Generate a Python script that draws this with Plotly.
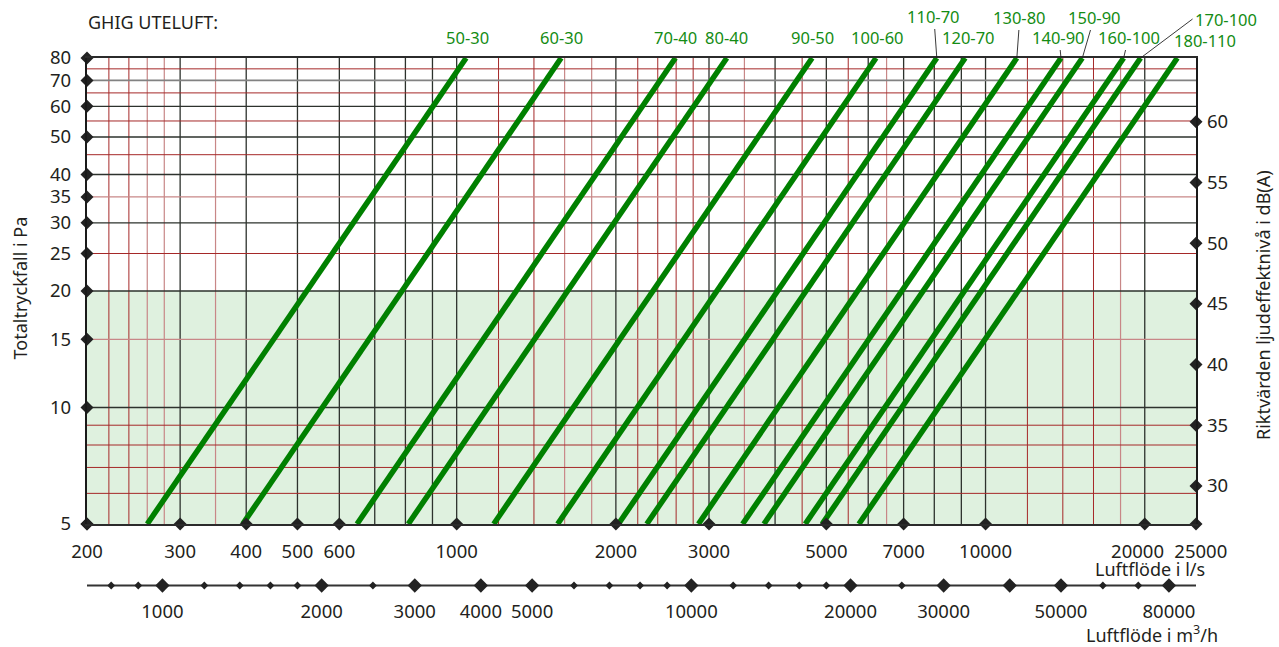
import math
import plotly.graph_objects as go

# ---------------- data ----------------
line_labels = ["50-30", "60-30", "70-40", "80-40", "90-50", "100-60", "110-70",
               "120-70", "130-80", "140-90", "150-90", "160-100", "170-100", "180-110"]
# air flow (l/s) where each curve meets 5 Pa and 80 Pa
flow_at_5pa = [260, 394, 648, 810, 1175, 1552, 2022, 2288, 2865, 3472, 3810, 4561, 4910, 5761]
flow_at_80pa = [1042, 1576, 2592, 3242, 4700, 6208, 8088, 9152, 11460, 13888, 15240, 18244, 19640, 23044]
pressure_ends = [5, 80]

x_ticks_ls = [200, 300, 400, 500, 600, 1000, 2000, 3000, 5000, 7000, 10000, 20000, 25000]
x_tick_text = ["200", "300", "400", "500", "600", "1000", "2000", "3000", "5000", "7000",
               "10000", "20000\u00a0\u00a0\u00a0", "\u00a0\u00a025000"]
y_ticks_pa = [5, 10, 15, 20, 25, 30, 35, 40, 50, 60, 70, 80]
y_ticks_db = [30, 35, 40, 45, 50, 55, 60]
m3h_labels = [1000, 2000, 3000, 4000, 5000, 10000, 20000, 30000, 50000, 80000]
m3h_major = [1000, 2000, 3000, 4000, 5000, 10000, 20000, 30000, 40000, 50000, 80000]
m3h_minor = [800, 900, 1200, 1400, 1600, 1800, 2500, 6000, 7000, 8000, 9000,
             12000, 14000, 16000, 18000, 25000, 60000, 70000]

grid_x_dark = [300, 400, 500, 600, 700, 800, 900, 1000, 2000, 3000, 4000, 5000,
               6000, 7000, 8000, 9000, 10000, 20000]
grid_x_red = [220, 240, 1200, 1400, 2200, 2400, 2600, 2800, 4500, 5500, 12000, 14000, 16000]
grid_x_pink = [260, 280, 350, 1600, 1800, 3500, 6500, 18000]
grid_y_dark = [10, 20, 30, 40, 50, 60]
grid_y_gray = [70]
grid_y_red = [6, 7, 8, 9, 25, 45, 55, 65, 75]
grid_y_pink = [15, 35]
comfort_band = [5, 20]        # shaded pressure band (Pa)

x_range = [200, 25000]
y_range = [5, 80]
db_range = [26.87, 65.25]
m3h_range = [720, 90000]

FONT = "Noto Sans"
TXT = "#231f20"
GREEN = "rgb(0,128,0)"
EPS = 1e-6

fig = go.Figure()

# shaded band
fig.add_shape(type="rect", xref="x", yref="y", x0=x_range[0], x1=x_range[1],
              y0=comfort_band[0], y1=comfort_band[1], layer="below",
              line=dict(width=0), fillcolor="rgb(223,241,223)")


def vlines(vals):
    xs, ys = [], []
    for v in vals:
        xs += [v, v, None]
        ys += [y_range[0], y_range[1], None]
    return xs, ys


def hlines(vals):
    xs, ys = [], []
    for v in vals:
        xs += [x_range[0], x_range[1], None]
        ys += [v, v, None]
    return xs, ys


for vals, col, w in [(grid_x_pink, "rgb(200,135,135)", 1.2), (grid_x_red, "rgb(165,40,40)", 1.0),
                     (grid_x_dark, "rgb(45,50,45)", 1.3)]:
    xs, ys = vlines(vals)
    fig.add_trace(go.Scatter(x=xs, y=ys, mode="lines", line=dict(color=col, width=w),
                             hoverinfo="skip", showlegend=False))
for vals, col, w in [(grid_y_pink, "rgb(200,135,135)", 1.2), (grid_y_red, "rgb(165,40,40)", 1.0),
                     (grid_y_gray, "rgb(130,130,130)", 1.8), (grid_y_dark, "rgb(45,50,45)", 1.3)]:
    xs, ys = hlines(vals)
    fig.add_trace(go.Scatter(x=xs, y=ys, mode="lines", line=dict(color=col, width=w),
                             hoverinfo="skip", showlegend=False))

# green characteristic lines
for lab, q5, q80 in zip(line_labels, flow_at_5pa, flow_at_80pa):
    fig.add_trace(go.Scatter(x=[q5, q80], y=pressure_ends, mode="lines", name=lab,
                             line=dict(color=GREEN, width=5.5), hoverinfo="skip",
                             showlegend=False))

# axis diamonds
fig.add_trace(go.Scatter(x=[x_range[0]] * len(y_ticks_pa), y=y_ticks_pa, mode="markers",
                         marker=dict(symbol="diamond", size=10, color="#222"),
                         cliponaxis=False, hoverinfo="skip", showlegend=False))
fig.add_trace(go.Scatter(x=x_ticks_ls, y=[y_range[0]] * len(x_ticks_ls), mode="markers",
                         marker=dict(symbol="diamond", size=10, color="#222"),
                         cliponaxis=False, hoverinfo="skip", showlegend=False))
fig.add_trace(go.Scatter(x=[x_range[1]] * len(y_ticks_db), y=y_ticks_db, mode="markers",
                         xaxis="x", yaxis="y2",
                         marker=dict(symbol="diamond", size=10, color="#222"),
                         cliponaxis=False, hoverinfo="skip", showlegend=False))

# m3/h scale line + diamonds
fig.add_trace(go.Scatter(x=m3h_range, y=[0.5, 0.5], mode="lines", xaxis="x2", yaxis="y3",
                         line=dict(color="#333", width=2.2), cliponaxis=False,
                         hoverinfo="skip", showlegend=False))
fig.add_trace(go.Scatter(x=m3h_minor, y=[0.5] * len(m3h_minor), mode="markers", xaxis="x2",
                         yaxis="y3", marker=dict(symbol="diamond", size=6, color="#222"),
                         cliponaxis=False, hoverinfo="skip", showlegend=False))
fig.add_trace(go.Scatter(x=m3h_major, y=[0.5] * len(m3h_major), mode="markers", xaxis="x2",
                         yaxis="y3", marker=dict(symbol="diamond", size=11, color="#222"),
                         cliponaxis=False, hoverinfo="skip", showlegend=False))

# ---------------- layout ----------------
W, H = 1279, 647
ML, MR, MT, MB = 87, 83, 58, 30
PW, PH = W - ML - MR, H - MT - MB
plot_bottom = 524
m3h_line_y = 585.5


def px_x(X):
    return (X - ML) / PW


def px_y(Y):
    return (H - MB - Y) / PH


y_dom0 = px_y(plot_bottom)
half = (H - MB - m3h_line_y) / PH

tickfont = dict(family=FONT, size=18.5, color=TXT)
fig.update_layout(
    width=W, height=H, margin=dict(l=ML, r=MR, t=MT, b=MB, pad=0),
    paper_bgcolor="white", plot_bgcolor="white", hovermode=False,
    font=dict(family=FONT, color=TXT),
    xaxis=dict(type="log",
               range=[math.log10(x_range[0]) - EPS, math.log10(x_range[1]) + EPS],
               domain=[0, 1], anchor="y", showgrid=False, zeroline=False,
               showline=True, linecolor="#2b2b2b", linewidth=2, mirror=True,
               tickvals=x_ticks_ls, ticktext=x_tick_text, ticks="",
               tickangle=0, tickfont=tickfont, ticklabelstandoff=10, automargin=False),
    yaxis=dict(type="log",
               range=[math.log10(y_range[0]) - EPS, math.log10(y_range[1]) + EPS],
               domain=[y_dom0, 1], anchor="x", showgrid=False, zeroline=False,
               showline=True, linecolor="#1a1a1a", linewidth=2.2, mirror=True,
               tickvals=y_ticks_pa, ticktext=[str(v) for v in y_ticks_pa], ticks="",
               tickfont=tickfont, ticklabelstandoff=10, automargin=False),
    yaxis2=dict(overlaying="y", side="right", anchor="x", range=db_range,
                showgrid=False, zeroline=False, showline=False,
                tickvals=y_ticks_db, ticktext=[str(v) for v in y_ticks_db], ticks="",
                tickfont=tickfont, ticklabelstandoff=10, automargin=False),
    xaxis2=dict(type="log", overlaying="x", anchor="free", position=px_y(598),
                range=[math.log10(m3h_range[0]), math.log10(m3h_range[1])],
                showgrid=False, zeroline=False, showline=False, tickangle=0,
                tickvals=m3h_labels, ticktext=[str(v) for v in m3h_labels], ticks="",
                tickfont=tickfont, automargin=False),
    yaxis3=dict(domain=[0, 2 * half], range=[0, 1], visible=False, anchor="x2"),
)

annots = [
    dict(text="GHIG UTELUFT:", x=px_x(86), y=px_y(22), xanchor="left", yanchor="middle",
         font=dict(size=18, color=TXT)),
    dict(text="Totaltryckfall i Pa", x=px_x(19.5), y=px_y(288), textangle=-90,
         xanchor="center", yanchor="middle", font=dict(size=18, color=TXT)),
    dict(text="Riktvärden ljudeffektnivå i dB(A)", x=px_x(1263), y=px_y(305), textangle=-90,
         xanchor="center", yanchor="middle", font=dict(size=18, color=TXT)),
    dict(text="Luftflöde i l/s", x=px_x(1207), y=px_y(569), xanchor="right", yanchor="middle",
         font=dict(size=18, color=TXT)),
    dict(text="Luftflöde i m<sup>3</sup>/h", x=px_x(1220), y=px_y(634), xanchor="right",
         yanchor="middle", font=dict(size=18, color=TXT)),
]
for a in annots:
    a.update(xref="paper", yref="paper", showarrow=False)
fig.update_layout(annotations=annots)

# curve labels: (pixel offset of label from the curve's top end, leader line?, xanchor)
label_style = [(1, -21, False, "center"), (0, -21, False, "center"), (0, -21, False, "center"),
               (0, -21, False, "center"), (0, -21, False, "center"), (1, -21, False, "center"),
               (-3, -42, True, "center"), (3, -21, False, "center"), (3, -41, True, "center"),
               (-2, -21, True, "center"), (12, -41, True, "center"), (5, -21, True, "center"),
               (52, -39, True, "left"), (28, -18, False, "center")]
for lab, q80, (dx, dy, lead, xa) in zip(line_labels, flow_at_80pa, label_style):
    fig.add_annotation(x=math.log10(q80), y=math.log10(pressure_ends[1]), xref="x", yref="y",
                       text=lab, showarrow=True, ax=dx, ay=dy, axref="pixel", ayref="pixel",
                       arrowhead=0, arrowwidth=0.9, standoff=0, startstandoff=0,
                       arrowcolor="#222" if lead else "rgba(0,0,0,0)", xanchor=xa,
                       font=dict(family=FONT, size=16.5, color="rgb(20,140,20)"))

fig.write_html("out.html", config={"displayModeBar": False},
               post_script="document.body.style.margin='0';")
